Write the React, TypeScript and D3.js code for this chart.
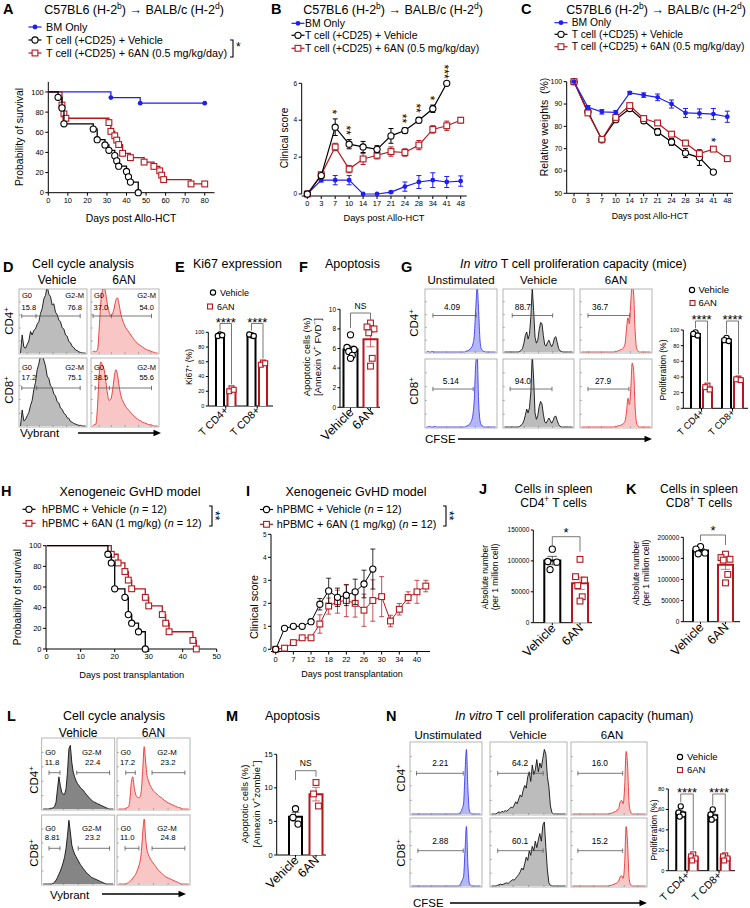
import React from 'react';
import * as d3 from 'd3';

const FONT = '"Liberation Sans", Arial, Helvetica, sans-serif';
const BLUE = '#1f1ff2';
const RED = '#b5171d';
const FLOW_RED = '#e8332f';
const FLOW_RED_FILL = '#f8c6c4';
const FLOW_GRAY = '#bcbcbc';
const FLOW_DARK = '#858585';
const FLOW_BLUE = '#3a3aef';
const FLOW_BLUE_FILL = '#b3b7f6';

// ---------- mouse allo-HCT model (A-C) ----------
const mouseGroups = ['BM Only', 'T cell (+CD25) + Vehicle', 'T cell (+CD25) + 6AN (0.5 mg/kg/day)'];

const aBmDays = [0, 32, 47, 80];
const aBmSurv = [100, 94.4, 88.9, 88.9];
const aVehDays = [0, 5, 7, 8, 23, 25, 29, 31, 34, 35, 36, 40, 41, 42, 46];
const aVehSurv = [100, 94.7, 84.2, 68.4, 63.2, 52.6, 47.4, 42.1, 36.8, 31.6, 26.3, 21.1, 15.8, 10.5, 0];
const a6anDays = [0, 7, 8, 9, 31, 32, 34, 35, 36, 38, 42, 49, 54, 57, 58, 59, 73, 80];
const a6anSurv = [100, 87, 78.3, 73.9, 69.6, 60.9, 56.5, 52.2, 47.8, 39.1, 34.8, 30.4, 26.1, 21.7, 17.4, 13, 8.7, 8.7];
const aXTicks = [0, 10, 20, 30, 40, 50, 60, 70, 80];
const aYTicks = [0, 20, 40, 60, 80, 100];

const bDays = ['0', '3', '7', '10', '14', '17', '21', '24', '28', '34', '41', '48'];
const bBm = [0, 0.75, 0.75, 0.75, 0, 0, 0.1, 0.4, 0.65, 0.75, 0.65, 0.7];
const bBmErr = [0, 0.1, 0.25, 0.25, 0, 0, 0.05, 0.25, 0.35, 0.4, 0.3, 0.28];
const bVeh = [0, 1.0, 3.62, 2.7, 2.55, 2.42, 3.15, 3.44, 4.0, 4.62, 6.0];
const bVehErr = [0, 0.1, 0.45, 0.25, 0.3, 0.2, 0.4, 0.15, 0.15, 0.2, 0];
const b6an = [0, 1.05, 2.55, 1.35, 1.9, 2.1, 2.3, 2.25, 2.65, 3.5, 3.7, 4.0];
const b6anErr = [0, 0.1, 0.2, 0.2, 0.3, 0.2, 0.25, 0.2, 0.25, 0.2, 0.25, 0.15];
const bStars = ['', '', '*', '**', '', '', '', '**', '**', '*', '***', ''];

const cBm = [100, 88.5, 86.5, 86.3, 95, 94, 93, 90, 86, 85.8, 85.5, 84.3];
const cBmErr = [0, 0.8, 1, 0.8, 0.6, 1, 1.5, 1.8, 2, 2, 2.5, 2.5];
const cVeh = [100, 86.5, 74, 83, 88, 82.5, 77.5, 73, 68, 66, 59.5];
const cVehErr = [0, 0.8, 0.8, 1, 1, 1, 1.5, 1.5, 2, 3.5, 0.8];
const c6an = [100, 86, 74.2, 84, 89.3, 83.5, 81.5, 76.5, 72.5, 67.8, 69.8, 65.5];
const c6anErr = [0, 0.8, 0.8, 1, 1, 1, 1, 1, 1.2, 1, 1, 1.2];
const cStars = ['', '', '', '', '', '', '', '', '', '', '*', ''];

// ---------- cell cycle, mouse T cells (D) ----------
const cycleConds = ['Vehicle', '6AN'];
const dG0 = [['15.8', '37.0'], ['17.2', '38.5']];
const dG2M = [['76.8', '54.0'], ['75.1', '55.6']];
const dVehCd4 = [0, 30, 10, 8, 14, 20, 36, 30, 38, 40, 48, 52, 66, 74, 90, 96, 112, 98, 94, 80, 82, 68, 64, 55, 52, 42, 40, 30, 28, 19, 17, 11, 9, 5, 4, 2, 1, 0, 0, 0];
const d6anCd4 = [2, 3, 2, 5, 40, 85, 105, 110, 98, 80, 68, 62, 65, 75, 88, 92, 80, 65, 55, 48, 42, 38, 34, 30, 26, 22, 19, 16, 14, 12, 10, 8, 6, 5, 4, 3, 2, 1, 0, 0];
const dVehCd8 = [0, 25, 8, 10, 16, 21, 32, 40, 57, 68, 88, 97, 110, 112, 103, 94, 78, 74, 63, 60, 50, 47, 38, 36, 28, 26, 20, 18, 13, 12, 7, 6, 4, 3, 2, 1, 1, 0, 0, 0];
const d6anCd8 = [0, 2, 3, 30, 80, 100, 95, 88, 70, 50, 40, 42, 55, 75, 88, 80, 62, 48, 40, 35, 30, 27, 24, 21, 18, 15, 13, 11, 9, 8, 6, 5, 4, 3, 2, 2, 1, 0, 0, 0];

// ---------- Ki67 (E), apoptosis (F) ----------
const tGroups = ['T CD4+', 'T CD8+'];
const eVeh = [[97, 95, 96], [96, 97, 95]];
const e6an = [[24, 20, 22], [59, 56, 58]];
const fVeh = [7.4, 6.1, 5.9, 5.7, 5.3, 5.0];
const f6an = [8.6, 8.2, 8.0, 7.6, 5.0, 4.2];

// ---------- CFSE proliferation, mouse (G) ----------
const cfseConds = ['Unstimulated', 'Vehicle', '6AN'];
const gPct = [['4.09', '88.7', '36.7'], ['5.14', '94.0', '27.9']];
const gUnstCd4 = [0, 1, 0, 0, 1, 0, 0, 0, 0, 0, 0, 0, 0, 0, 0, 0, 0, 0, 0, 0, 0, 0, 0, 0, 0, 0, 0, 0, 1, 2, 3, 5, 8, 14, 30, 75, 110, 70, 20, 5, 2, 1, 0, 0, 0, 0, 0, 0, 0, 0];
const gUnstCd8 = [0, 0, 1, 0, 0, 0, 1, 0, 0, 0, 0, 0, 0, 0, 0, 0, 0, 0, 0, 0, 0, 0, 0, 0, 0, 0, 0, 0, 1, 2, 3, 6, 10, 20, 45, 100, 112, 40, 10, 3, 1, 0, 0, 0, 0, 0, 0, 0, 0, 0];
const gVehCd4 = [0, 0, 0, 0, 0, 0, 0, 0, 0, 0, 0, 1, 3, 6, 15, 28, 34, 22, 30, 60, 110, 70, 25, 15, 20, 38, 50, 48, 28, 12, 10, 16, 20, 14, 9, 14, 24, 26, 16, 6, 2, 1, 0, 0, 0, 0, 0, 0, 0, 0];
const gVehCd8 = [0, 0, 0, 0, 0, 0, 0, 0, 0, 0, 0, 1, 3, 5, 10, 18, 28, 22, 30, 55, 115, 75, 22, 12, 18, 32, 40, 36, 20, 8, 6, 10, 14, 10, 6, 10, 16, 17, 10, 4, 1, 0, 0, 0, 0, 0, 0, 0, 0, 0];
const g6anCd4 = [0, 0, 0, 0, 0, 0, 0, 0, 0, 0, 0, 0, 0, 0, 0, 0, 0, 0, 0, 0, 0, 0, 0, 0, 1, 1, 2, 3, 4, 5, 8, 15, 40, 58, 48, 85, 115, 100, 40, 8, 2, 0, 0, 0, 0, 0, 0, 0, 0, 0];
const g6anCd8 = [0, 0, 0, 0, 0, 0, 0, 0, 0, 0, 0, 0, 0, 0, 0, 0, 0, 0, 0, 0, 0, 0, 0, 0, 1, 1, 2, 2, 3, 4, 6, 10, 25, 45, 35, 60, 100, 90, 35, 8, 2, 0, 0, 0, 0, 0, 0, 0, 0, 0];
const gVeh = [[97, 95, 93], [90, 87, 86]];
const g6an = [[29, 27, 24], [38, 37, 36]];

// ---------- xenogeneic GvHD (H-K) ----------
const huGroups = ['hPBMC + Vehicle', 'hPBMC + 6AN (1 mg/kg)'];
const huN = [12, 12];
const hVehDays = [0, 18, 19, 20, 23, 24, 25, 27, 29];
const hVehSurv = [100, 91.7, 83.3, 58.3, 50, 33.3, 25, 16.7, 0];
const h6anDays = [0, 19, 21, 23, 24, 25, 29, 30, 34, 35, 36, 43, 44];
const h6anSurv = [100, 91.7, 83.3, 75, 66.7, 58.3, 50, 41.7, 33.3, 25, 16.7, 8.3, 0];
const hXTicks = [0, 10, 20, 30, 40, 50];

const iDays = ['0', '4', '7', '10', '12', '15', '18', '20', '22', '24', '26', '28', '30', '32', '34', '37', '40', '42'];
const iVeh = [0, 0.91, 1.0, 1.0, 1.2, 1.96, 2.54, 2.26, 2.35, 2.5, 2.84, 3.49];
const iVehErr = [0, 0, 0, 0, 0, 0.25, 0.55, 0.4, 0.45, 0.55, 0.6, 0.87];
const i6an = [0, 0.05, 0.29, 0.5, 0.5, 1.1, 1.88, 2.07, 2.12, 2.0, 1.7, 2.12, 2.29, 1.23, 1.74, 2.25, 2.5, 2.75];
const i6anErr = [0, 0, 0, 0, 0, 0.4, 0.35, 0.5, 0.7, 0.6, 0.7, 0.9, 0.87, 0.25, 0.25, 0.25, 0.5, 0.25];

const pairLabels = ['Vehicle', '6AN'];
const jVeh = [119000, 99000, 98000, 86000];
const j6an = [102500, 74500, 69000, 60000, 42000, 35000];
const kVeh = [178000, 172000, 163000, 161000];
const k6an = [160000, 152000, 148000, 146000, 112000, 92000];

// ---------- human T cells (L-N) ----------
const lG0 = [['11.8', '17.2'], ['8.81', '11.0']];
const lG2M = [['22.4', '23.2'], ['23.2', '24.8']];
const lVehCd4 = [0, 0, 0, 0, 0, 1, 1, 2, 4, 10, 30, 48, 35, 25, 22, 22, 30, 55, 90, 95, 70, 55, 48, 42, 38, 35, 32, 30, 28, 25, 22, 20, 17, 15, 13, 11, 10, 9, 8, 7, 6, 5, 4, 3, 2, 1, 0, 0, 0, 0];
const l6anCd4 = [0, 0, 0, 0, 0, 1, 2, 3, 15, 40, 48, 32, 22, 18, 17, 18, 28, 60, 93, 70, 50, 42, 36, 32, 28, 26, 24, 22, 20, 18, 17, 15, 13, 12, 10, 9, 8, 7, 6, 5, 4, 3, 2, 2, 1, 0, 0, 0, 0, 0];
const lVehCd8 = [0, 0, 0, 0, 0, 0, 0, 1, 3, 6, 10, 15, 20, 26, 33, 42, 55, 75, 98, 80, 60, 52, 46, 42, 38, 34, 30, 27, 24, 21, 18, 16, 14, 12, 10, 9, 8, 7, 6, 5, 4, 3, 2, 1, 0, 0, 0, 0, 0, 0];
const l6anCd8 = [0, 0, 0, 0, 0, 0, 1, 2, 4, 6, 9, 12, 15, 20, 26, 34, 50, 80, 100, 70, 52, 45, 40, 36, 33, 30, 27, 24, 21, 19, 17, 15, 13, 11, 10, 9, 8, 7, 6, 5, 4, 3, 2, 1, 0, 0, 0, 0, 0, 0];
const mVeh = [6.9, 5.6, 4.6];
const m6an = [10.8, 9.1, 7.3];

const nPct = [['2.21', '64.2', '16.0'], ['2.88', '60.1', '15.2']];
const nUnstCd4 = [0, 0, 0, 0, 0, 0, 0, 0, 0, 0, 0, 0, 0, 0, 0, 0, 0, 0, 0, 0, 0, 0, 0, 0, 0, 0, 0, 0, 0, 0, 0, 0, 0, 0, 1, 3, 8, 16, 60, 95, 40, 6, 1, 0, 0, 0, 0, 0, 0, 0];
const nUnstCd8 = [0, 0, 0, 0, 0, 0, 0, 0, 0, 0, 0, 0, 0, 0, 0, 0, 0, 0, 0, 0, 0, 0, 0, 0, 0, 0, 0, 0, 0, 0, 0, 0, 0, 0, 1, 4, 9, 15, 55, 93, 35, 5, 1, 0, 0, 0, 0, 0, 0, 0];
const nVehCd4 = [0, 0, 0, 0, 2, 3, 2, 4, 3, 5, 4, 6, 8, 10, 9, 13, 18, 15, 22, 28, 25, 35, 42, 38, 55, 62, 48, 72, 58, 65, 80, 62, 75, 68, 82, 95, 88, 55, 40, 12, 2, 0, 0, 0, 0, 0, 0, 0, 0, 0];
const nVehCd8 = [0, 0, 0, 0, 1, 2, 3, 2, 3, 4, 5, 4, 6, 8, 10, 9, 12, 15, 18, 22, 28, 25, 35, 45, 40, 55, 48, 62, 55, 70, 60, 72, 82, 70, 95, 100, 60, 25, 5, 1, 0, 0, 0, 0, 0, 0, 0, 0, 0, 0];
const n6anCd4 = [0, 0, 0, 0, 0, 0, 0, 0, 0, 0, 0, 0, 0, 0, 0, 0, 0, 0, 0, 0, 0, 0, 0, 0, 0, 1, 1, 2, 3, 4, 6, 8, 18, 20, 15, 40, 92, 70, 15, 3, 0, 0, 0, 0, 0, 0, 0, 0, 0, 0];
const n6anCd8 = [0, 0, 0, 0, 0, 0, 0, 0, 0, 0, 0, 0, 0, 0, 0, 0, 0, 0, 0, 0, 0, 0, 0, 0, 0, 1, 1, 2, 3, 4, 5, 8, 14, 16, 12, 35, 93, 65, 12, 2, 0, 0, 0, 0, 0, 0, 0, 0, 0, 0];
const nVeh = [[63, 57, 55, 53], [60, 55, 52, 50]];
const n6an = [[16, 14, 12, 10], [15, 14, 12, 10]];

// ================= drawing helpers =================
function rich(parts: any[], fs: number) {
  const out: any[] = [];
  let up = false;
  parts.forEach((p, i) => {
    const [t, k] = typeof p === 'string' ? [p, ''] : p;
    if (k === 'sup') {
      out.push(<tspan key={i} dy={-fs * 0.38} fontSize={fs * 0.68}>{t}</tspan>);
      up = true;
    } else {
      out.push(
        <tspan key={i} dy={up ? fs * 0.38 : 0} fontStyle={k === 'it' ? 'italic' : undefined}>{t}</tspan>
      );
      up = false;
    }
  });
  return out;
}

function Letter({ x, y, t }: any) {
  return <text x={x} y={y} fontSize={14.5} fontWeight="bold">{t}</text>;
}

function Mk({ kind, x, y, s = 1 }: any) {
  if (kind === 'dot') return <circle cx={x} cy={y} r={2.4 * s} fill={BLUE} />;
  if (kind === 'circle') return <circle cx={x} cy={y} r={3.1 * s} fill="#fff" stroke="#000" strokeWidth={1.1} />;
  const h = 2.9 * s;
  return <rect x={x - h} y={y - h} width={2 * h} height={2 * h} fill="#fff" stroke={RED} strokeWidth={1.1} />;
}

function YAx({ y, x, ticks, fs, top, tl = 3, fmt = (v: number) => String(v) }: any) {
  const r = y.range();
  return (
    <g>
      <line x1={x} x2={x} y1={r[0]} y2={top ?? r[1]} stroke="#000" strokeWidth={1} />
      {ticks.map((t: number) => (
        <g key={t}>
          <line x1={x - tl} x2={x} y1={y(t)} y2={y(t)} stroke="#000" strokeWidth={1} />
          <text x={x - tl - 1.5} y={y(t)} dy="0.35em" textAnchor="end" fontSize={fs}>{fmt(t)}</text>
        </g>
      ))}
    </g>
  );
}

function XAx({ yPos, x0, x1, ticks, fs, tl = 3 }: any) {
  return (
    <g>
      <line x1={x0} x2={x1} y1={yPos} y2={yPos} stroke="#000" strokeWidth={1} />
      {ticks.map(([p, l]: any, i: number) => (
        <g key={i}>
          <line x1={p} x2={p} y1={yPos} y2={yPos + tl} stroke="#000" strokeWidth={1} />
          <text x={p} y={yPos + tl + 1.5 + fs * 0.75} textAnchor="middle" fontSize={fs}>{l}</text>
        </g>
      ))}
    </g>
  );
}

// significance asterisks stacked vertically, set as one run of text turned on its side
function VStars({ x, yc, n, fs = 12 }: any) {
  const adv = fs * 0.389;
  return (
    <text
      transform={`translate(${x - fs * 0.565},${yc + adv / 2}) rotate(90)`}
      textAnchor="end"
      fontSize={fs}
      fill="#000"
    >
      {'*'.repeat(n)}
    </text>
  );
}

function Series({ xs, y, vals, errs, kind, color, cap = 2.5, ms = 1, errOpacity = 1, lw = 1.2 }: any) {
  const pts = vals.map((v: number, i: number) => [xs[i], y(v)]);
  const line = d3.line();
  return (
    <g>
      <g stroke={color} strokeWidth={1} strokeOpacity={errOpacity}>
        {vals.map((v: number, i: number) =>
          errs[i] > 0 ? (
            <g key={i}>
              <line x1={xs[i]} x2={xs[i]} y1={y(v - errs[i])} y2={y(v + errs[i])} />
              <line x1={xs[i] - cap} x2={xs[i] + cap} y1={y(v + errs[i])} y2={y(v + errs[i])} />
              <line x1={xs[i] - cap} x2={xs[i] + cap} y1={y(v - errs[i])} y2={y(v - errs[i])} />
            </g>
          ) : null
        )}
      </g>
      <path d={line(pts) || ''} fill="none" stroke={color} strokeWidth={lw} />
      {pts.map((p: number[], i: number) => <Mk key={i} kind={kind} x={p[0]} y={p[1]} s={ms} />)}
    </g>
  );
}

function KM({ x, y, days, surv, kind, color }: any) {
  const pts = days.map((t: number, i: number) => [t, surv[i]]);
  const step = d3.line().x((d: any) => x(d[0])).y((d: any) => y(d[1])).curve(d3.curveStepAfter);
  return (
    <g>
      <path d={step(pts) || ''} fill="none" stroke={color} strokeWidth={1.3} />
      {pts.slice(1).map((p: number[], i: number) => <Mk key={i} kind={kind} x={x(p[0])} y={y(p[1])} />)}
    </g>
  );
}

function StrainTitle({ x, y, fs }: any) {
  return (
    <text x={x} y={y} fontSize={fs} textAnchor="middle">
      {rich(['C57BL6 (H-2', ['b', 'sup'], ') \u2192 BALB/c (H-2', ['d', 'sup'], ')'], fs)}
    </text>
  );
}

function MouseLegend({ cx, ys, tx, fs }: any) {
  const kinds = ['dot', 'circle', 'square'];
  const cols = [BLUE, '#000', RED];
  return (
    <g>
      {mouseGroups.map((t, i) => (
        <g key={t}>
          <line x1={cx - 6.5} x2={cx + 6.5} y1={ys[i]} y2={ys[i]} stroke={cols[i]} strokeWidth={1.2} />
          <Mk kind={kinds[i]} x={cx} y={ys[i]} />
          <text x={tx} y={ys[i]} dy="0.35em" fontSize={fs}>{t}</text>
        </g>
      ))}
    </g>
  );
}

function HuLegend({ cx, ys, tx, fs }: any) {
  const kinds = ['circle', 'square'];
  const cols = ['#000', RED];
  return (
    <g>
      {huGroups.map((t, i) => (
        <g key={t}>
          <line x1={cx - 6.5} x2={cx + 6.5} y1={ys[i]} y2={ys[i]} stroke={cols[i]} strokeWidth={1.2} />
          <Mk kind={kinds[i]} x={cx} y={ys[i]} />
          <text x={tx} y={ys[i]} dy="0.35em" fontSize={fs}>
            {t} (<tspan fontStyle="italic">n</tspan> = {huN[i]})
          </text>
        </g>
      ))}
    </g>
  );
}

function RightBracket({ x, y1, y2, w = 3 }: any) {
  return <path d={`M${x - w},${y1}H${x}V${y2}H${x - w}`} fill="none" stroke="#000" strokeWidth={1.1} />;
}

function FlowHist({ id, x, y, w, h, data, fill, stroke, smooth = false }: any) {
  const xs = d3.scaleLinear().domain([0, data.length - 1]).range([x + 1.5, x + w - 1.5]);
  const ys = d3.scaleLinear().domain([0, 100]).range([y + h - 1, y + 4]);
  const curve = smooth ? d3.curveMonotoneX : d3.curveLinear;
  const area = d3.area<number>().x((_, i) => xs(i)).y0(y + h - 1).y1((d) => ys(d)).curve(curve);
  const line = d3.line<number>().x((_, i) => xs(i)).y((d) => ys(d)).curve(curve);
  const bt = [0.12, 0.3, 0.5, 0.7, 0.88];
  const lt = [0.2, 0.4, 0.6, 0.8];
  return (
    <g>
      <defs>
        <clipPath id={id}>
          <rect x={x} y={y} width={w} height={h} />
        </clipPath>
      </defs>
      <g clipPath={`url(#${id})`}>
        <path d={area(data) || ''} fill={fill} />
        <path d={line(data) || ''} fill="none" stroke={stroke} strokeWidth={0.9} strokeLinejoin="round" />
      </g>
      <rect x={x} y={y} width={w} height={h} fill="none" stroke="#a3a3a3" strokeWidth={0.8} />
      <g stroke="#777" strokeWidth={0.6}>
        {bt.map((f) => <line key={'b' + f} x1={x + f * w} x2={x + f * w} y1={y + h} y2={y + h - 1.8} />)}
        {lt.map((f) => <line key={'l' + f} x1={x} x2={x + 1.8} y1={y + f * h} y2={y + f * h} />)}
      </g>
    </g>
  );
}

function Gate({ xs, y }: any) {
  return (
    <g stroke="#555" strokeWidth={0.8}>
      <line x1={xs[0]} x2={xs[xs.length - 1]} y1={y} y2={y} />
      {xs.map((v: number, i: number) => <line key={i} x1={v} x2={v} y1={y - 2.2} y2={y + 2.2} />)}
    </g>
  );
}

function Arrow({ x1, x2, y }: any) {
  return (
    <g>
      <line x1={x1} x2={x2 - 5} y1={y} y2={y} stroke="#000" strokeWidth={1.6} />
      <path d={`M${x2},${y}L${x2 - 7.5},${y - 3.2}L${x2 - 7.5},${y + 3.2}Z`} fill="#000" />
    </g>
  );
}

function RotLabel({ x, y, fs, children }: any) {
  return (
    <text transform={`translate(${x},${y}) rotate(-90)`} textAnchor="middle" fontSize={fs}>{children}</text>
  );
}

const JIT = [0, -1, 1, -0.5, 0.5, 0];
function Bar({ cx, w, vals, y, color, kind, ms = 1, spread = 3 }: any) {
  const m = d3.mean(vals) as number;
  const se = (d3.deviation(vals) as number) / Math.sqrt(vals.length);
  const yb = y(0);
  const yt = y(m);
  const ce = w * 0.3;
  return (
    <g>
      <path d={`M${cx - w / 2},${yb}V${yt}H${cx + w / 2}V${yb}`} fill="#fff" stroke={color} strokeWidth={2} />
      <g stroke={color} strokeWidth={1} strokeOpacity={0.6}>
        <line x1={cx} x2={cx} y1={y(m - se)} y2={y(m + se)} />
        <line x1={cx - ce} x2={cx + ce} y1={y(m + se)} y2={y(m + se)} />
        <line x1={cx - ce} x2={cx + ce} y1={y(m - se)} y2={y(m - se)} />
      </g>
      {vals.map((v: number, i: number) => (
        <Mk key={i} kind={kind} x={cx + JIT[i % JIT.length] * spread} y={y(v)} s={ms} />
      ))}
    </g>
  );
}

function GroupBars({ y, ax, xEnd, centers, off, bw, veh, an, labelY, labelFs, ticks, tickFs, starY, brY, starFs = 13, ms = 0.85 }: any) {
  const y0 = y(0);
  return (
    <g>
      <YAx y={y} x={ax} ticks={ticks} fs={tickFs} tl={2.5} />
      <line x1={ax} x2={xEnd} y1={y0} y2={y0} stroke="#000" strokeWidth={1} />
      {centers.map((c: number, gi: number) => {
        const xv = c - off;
        const xa = c + off;
        const lv = y(d3.max(veh[gi]) as number) - 4;
        const la = y(d3.max(an[gi]) as number) - 4;
        return (
          <g key={gi}>
            <line x1={c} x2={c} y1={y0} y2={y0 + 2.5} stroke="#000" />
            <Bar cx={xv} w={bw} vals={veh[gi]} y={y} color="#000" kind="circle" ms={ms} spread={2.2} />
            <Bar cx={xa} w={bw} vals={an[gi]} y={y} color={RED} kind="square" ms={ms} spread={2.2} />
            <path d={`M${xv},${lv}V${brY}H${xa}V${la}`} fill="none" stroke="#555" strokeWidth={0.8} />
            <text x={c} y={starY + starFs * 0.57} textAnchor="middle" fontSize={starFs}>****</text>
            <text transform={`translate(${c + 3},${labelY}) rotate(-45)`} textAnchor="end" fontSize={labelFs}>
              {tGroups[gi]}
            </text>
          </g>
        );
      })}
    </g>
  );
}

function PairBars({ y, ax, xEnd, xs, bw, veh, an, ticks, tickFs, labelY, labelFs, sig, sigY, brY, legs, ms = 1, spread = 3.5, sigFs = 8.5 }: any) {
  const y0 = y(0);
  return (
    <g>
      <YAx y={y} x={ax} ticks={ticks} fs={tickFs} tl={2.5} />
      <line x1={ax} x2={xEnd} y1={y0} y2={y0} stroke="#000" strokeWidth={1} />
      {xs.map((c: number) => <line key={c} x1={c} x2={c} y1={y0} y2={y0 + 2.5} stroke="#000" />)}
      <Bar cx={xs[0]} w={bw} vals={veh} y={y} color="#000" kind="circle" ms={ms} spread={spread} />
      <Bar cx={xs[1]} w={bw} vals={an} y={y} color={RED} kind="square" ms={ms} spread={spread} />
      <path d={`M${xs[0]},${legs[0]}V${brY}H${xs[1]}V${legs[1]}`} fill="none" stroke="#555" strokeWidth={0.8} />
      <text x={(xs[0] + xs[1]) / 2} y={sigY} textAnchor="middle" fontSize={sigFs}>{sig}</text>
      {pairLabels.map((t, i) => (
        <text key={t} transform={`translate(${xs[i] + 4},${labelY}) rotate(-45)`} textAnchor="end" fontSize={labelFs}>{t}</text>
      ))}
    </g>
  );
}

// ================= panels =================
function PanelA() {
  const x = d3.scaleLinear().domain([0, 85]).range([48.3, 214.5]);
  const y = d3.scaleLinear().domain([0, 110]).range([192.7, 81.9]);
  return (
    <g>
      <Letter x={3} y={14} t="A" />
      <StrainTitle x={134} y={14} fs={12.5} />
      <MouseLegend cx={35} ys={[27, 40, 53]} tx={46} fs={10.8} />
      <RightBracket x={233} y1={40} y2={57} />
      <text x={236} y={51} fontSize={12}>*</text>
      <YAx y={y} x={48.3} ticks={aYTicks} fs={7.5} top={y(110)} />
      <XAx yPos={y(0)} x0={48.3} x1={x(85)} ticks={aXTicks.map((v) => [x(v), String(v)])} fs={7.5} />
      <RotLabel x={23} y={137} fs={10.4}>Probability of survival</RotLabel>
      <text x={131} y={222} textAnchor="middle" fontSize={10.4}>Days post Allo-HCT</text>
      <KM x={x} y={y} days={aBmDays} surv={aBmSurv} kind="dot" color={BLUE} />
      <KM x={x} y={y} days={a6anDays} surv={a6anSurv} kind="square" color={RED} />
      <KM x={x} y={y} days={aVehDays} surv={aVehSurv} kind="circle" color="#000" />
    </g>
  );
}

function PanelB() {
  const x = d3.scalePoint().domain(bDays).range([307.3, 460.7]);
  const y = d3.scaleLinear().domain([0, 6]).range([194, 83.3]);
  const px = (i: number) => x(bDays[i]) as number;
  return (
    <g>
      <Letter x={271} y={14} t="B" />
      <StrainTitle x={393} y={14} fs={12.5} />
      <MouseLegend cx={298} ys={[23.3, 35.3, 48.3]} tx={305} fs={10.4} />
      <YAx y={y} x={301.7} ticks={[0, 2, 4, 6]} fs={6.5} />
      <XAx yPos={196} x0={301.7} x1={466.7} ticks={bDays.map((d) => [x(d), d])} fs={7.5} />
      <RotLabel x={288} y={138} fs={10.2}>Clinical score</RotLabel>
      <text x={384} y={221} textAnchor="middle" fontSize={9.3}>Days post Allo-HCT</text>
      <Series xs={bBm.map((_, i) => px(i))} y={y} vals={bBm} errs={bBmErr} kind="dot" color={BLUE} />
      <Series xs={b6an.map((_, i) => px(i))} y={y} vals={b6an} errs={b6anErr} kind="square" color={RED} />
      <Series xs={bVeh.map((_, i) => px(i))} y={y} vals={bVeh} errs={bVehErr} kind="circle" color="#000" />
      {bStars.map((s, i) =>
        s ? (
          <VStars key={i} x={px(i)} yc={y(Math.max(bVeh[i] + bVehErr[i], b6an[i] + b6anErr[i])) - 7} n={s.length} />
        ) : null
      )}
    </g>
  );
}

function PanelC() {
  const x = d3.scalePoint().domain(bDays).range([574, 727.3]);
  const y = d3.scaleLinear().domain([50, 100]).range([193.3, 81.7]);
  const px = (i: number) => x(bDays[i]) as number;
  return (
    <g>
      <Letter x={521} y={14} t="C" />
      <StrainTitle x={656} y={14} fs={12.5} />
      <MouseLegend cx={561} ys={[22.7, 34.3, 46.7]} tx={571.7} fs={10.3} />
      <YAx y={y} x={566.7} ticks={[50, 60, 70, 80, 90, 100]} fs={7} />
      <XAx yPos={193.3} x0={566.7} x1={733} ticks={bDays.map((d) => [x(d), d])} fs={7.5} />
      <text transform="translate(548,127) rotate(-90)" textAnchor="middle" fontSize={10.5} style={{ whiteSpace: 'pre' }}>
        Relative weights  (%)
      </text>
      <text x={650} y={219} textAnchor="middle" fontSize={8.8}>Days post Allo-HCT</text>
      <Series xs={cVeh.map((_, i) => px(i))} y={y} vals={cVeh} errs={cVehErr} kind="circle" color="#000" />
      <Series xs={c6an.map((_, i) => px(i))} y={y} vals={c6an} errs={c6anErr} kind="square" color={RED} />
      <Series xs={cBm.map((_, i) => px(i))} y={y} vals={cBm} errs={cBmErr} kind="dot" color={BLUE} />
      {cStars.map((s, i) =>
        s ? (
          <VStars key={i} x={px(i)} yc={y(Math.max(cVeh[i] + cVehErr[i], c6an[i] + c6anErr[i])) - 7} n={s.length} />
        ) : null
      )}
    </g>
  );
}

function PanelD() {
  const cols = [{ x: 19, w: 68 }, { x: 91, w: 68 }];
  const rows = [{ y: 289, h: 65, t: [9, 20.5, 27] }, { y: 358, h: 69, t: [11.5, 22, 30] }];
  const hists = [[dVehCd4, d6anCd4], [dVehCd8, d6anCd8]];
  const gates = [[[0.04, 0.25, 0.9], [0.03, 0.3, 0.89]], [[0.04, 0.26, 0.9], [0.06, 0.27, 0.89]]];
  const styles = [
    { fill: FLOW_GRAY, stroke: '#111', smooth: false },
    { fill: FLOW_RED_FILL, stroke: FLOW_RED, smooth: true },
  ];
  return (
    <g>
      <Letter x={3} y={272} t="D" />
      <text x={32} y={268} fontSize={12.5}>Cell cycle analysis</text>
      {cycleConds.map((c, i) => (
        <text key={c} x={[57, 124][i]} y={283.5} textAnchor="middle" fontSize={12}>{c}</text>
      ))}
      {rows.map((r, ri) =>
        cols.map((c, ci) => (
          <g key={`${ri}-${ci}`}>
            <FlowHist id={`cc-m-${ri}-${ci}`} x={c.x} y={r.y} w={c.w} h={r.h} data={hists[ri][ci]} {...styles[ci]} />
            <g fontSize={7.5}>
              <text x={c.x + 3} y={r.y + r.t[0]}>G0</text>
              <text x={c.x + c.w - 3} y={r.y + r.t[0]} textAnchor="end">G2-M</text>
              <text x={c.x + 2.5} y={r.y + r.t[1]}>{dG0[ri][ci]}</text>
              <text x={c.x + c.w - 5} y={r.y + r.t[1]} textAnchor="end">{dG2M[ri][ci]}</text>
            </g>
            <Gate xs={gates[ri][ci].map((f) => c.x + f * c.w)} y={r.y + r.t[2]} />
          </g>
        ))
      )}
      <RotLabel x={13} y={321} fs={11.5}>{rich(['CD4', ['+', 'sup']], 11.5)}</RotLabel>
      <RotLabel x={13} y={390} fs={11.5}>{rich(['CD8', ['+', 'sup']], 11.5)}</RotLabel>
      <text x={20} y={437} fontSize={11.5}>Vybrant</text>
      <Arrow x1={78} x2={161} y={433} />
    </g>
  );
}

function PanelE() {
  const y = d3.scaleLinear().domain([0, 100]).range([406, 332.3]);
  return (
    <g>
      <Letter x={175} y={272} t="E" />
      <text x={193} y={268} fontSize={12.5}>Ki67 expression</text>
      <Mk kind="circle" x={213} y={292.5} s={0.85} />
      <text x={220} y={292.5} dy="0.35em" fontSize={9}>Vehicle</text>
      <Mk kind="square" x={210} y={306.5} s={0.85} />
      <text x={217} y={306.5} dy="0.35em" fontSize={9}>6AN</text>
      <GroupBars y={y} ax={208.3} xEnd={273} centers={[225.75, 257.25]} off={5.75} bw={8} veh={eVeh} an={e6an}
        labelY={411} labelFs={10.5} ticks={[0, 20, 40, 60, 80, 100]} tickFs={5.5} starY={319.5} brY={323.5} />
      <RotLabel x={192} y={367} fs={8.5}>{rich(['Ki67', ['+', 'sup'], ' (%)'], 8.5)}</RotLabel>
    </g>
  );
}

function PanelF() {
  const y = d3.scaleLinear().domain([0, 10]).range([407.3, 309.3]);
  return (
    <g>
      <Letter x={299} y={272} t="F" />
      <text x={325} y={268} fontSize={12.5}>Apoptosis</text>
      <PairBars y={y} ax={340} xEnd={380} xs={[350.5, 370.5]} bw={14} veh={fVeh} an={f6an}
        ticks={[0, 2, 4, 6, 8, 10]} tickFs={6.5} labelY={413} labelFs={12.5} sig="NS" sigY={308.5} brY={313}
        legs={[328, 320]} />
      <RotLabel x={309.5} y={357} fs={9.5}>Apoptotic cells (%)</RotLabel>
      <RotLabel x={321} y={357} fs={9.5}>{rich(['[Annexin V', ['+', 'sup'], ' FVD', ['\u2212', 'sup'], ']'], 9.5)}</RotLabel>
    </g>
  );
}

function PanelG() {
  const cols = [{ x: 425, w: 72 }, { x: 503, w: 71 }, { x: 580, w: 72 }];
  const rows = [{ y: 289, h: 64, t: [21, 26.5] }, { y: 359, h: 69, t: [25, 30] }];
  const hists = [[gUnstCd4, gVehCd4, g6anCd4], [gUnstCd8, gVehCd8, g6anCd8]];
  const gates = [[[0.11, 0.71], [0.13, 0.7], [0.11, 0.69]], [[0.11, 0.67], [0.1, 0.69], [0.11, 0.68]]];
  const numX = [[0.375, 0.28, 0.28], [0.36, 0.28, 0.32]];
  const styles = [
    { fill: FLOW_BLUE_FILL, stroke: FLOW_BLUE, smooth: true },
    { fill: FLOW_GRAY, stroke: '#111', smooth: false },
    { fill: FLOW_RED_FILL, stroke: FLOW_RED, smooth: true },
  ];
  const by = d3.scaleLinear().domain([0, 100]).range([408.3, 330]);
  return (
    <g>
      <Letter x={401} y={272} t="G" />
      <text x={460} y={268} fontSize={12.5}>{rich([['In vitro', 'it'], ' T cell proliferation capacity (mice)'], 12.5)}</text>
      {cfseConds.map((c, i) => (
        <text key={c} x={cols[i].x + cols[i].w / 2} y={284} textAnchor="middle" fontSize={11.5}>{c}</text>
      ))}
      {rows.map((r, ri) =>
        cols.map((c, ci) => (
          <g key={`${ri}-${ci}`}>
            <FlowHist id={`cfse-m-${ri}-${ci}`} x={c.x} y={r.y} w={c.w} h={r.h} data={hists[ri][ci]} {...styles[ci]} />
            <text x={c.x + numX[ri][ci] * c.w} y={r.y + r.t[0]} textAnchor="middle" fontSize={8.3}>{gPct[ri][ci]}</text>
            <Gate xs={gates[ri][ci].map((f) => c.x + f * c.w)} y={r.y + r.t[1]} />
          </g>
        ))
      )}
      <RotLabel x={418} y={323} fs={11.5}>{rich(['CD4', ['+', 'sup']], 11.5)}</RotLabel>
      <RotLabel x={418} y={391} fs={11.5}>{rich(['CD8', ['+', 'sup']], 11.5)}</RotLabel>
      <text x={425} y={442.5} fontSize={11.5}>CFSE</text>
      <Arrow x1={458} x2={652} y={439} />
      <Mk kind="circle" x={692} y={290} s={0.85} />
      <text x={698.5} y={290} dy="0.35em" fontSize={9.5}>Vehicle</text>
      <Mk kind="square" x={692.5} y={303} s={0.85} />
      <text x={698.5} y={303} dy="0.35em" fontSize={9.5}>6AN</text>
      <GroupBars y={by} ax={683.3} xEnd={748} centers={[701.5, 732.5]} off={6} bw={9} veh={gVeh} an={g6an}
        labelY={413} labelFs={9.5} ticks={[0, 20, 40, 60, 80, 100]} tickFs={5.5} starY={316.5} brY={321} />
      <RotLabel x={665.5} y={370} fs={8.5}>Proliferation (%)</RotLabel>
    </g>
  );
}

function PanelH() {
  const x = d3.scaleLinear().domain([0, 50]).range([46.7, 216.7]);
  const y = d3.scaleLinear().domain([0, 100]).range([649, 545.7]);
  return (
    <g>
      <Letter x={1} y={496} t="H" />
      <text x={130} y={496} textAnchor="middle" fontSize={12.5}>Xenogeneic GvHD model</text>
      <HuLegend cx={29} ys={[509.3, 523.3]} tx={42} fs={10.8} />
      <RightBracket x={212} y1={506} y2={526} />
      <VStars x={217.5} yc={518} n={2} />
      <YAx y={y} x={46} ticks={aYTicks} fs={7.5} />
      <XAx yPos={649} x0={46} x1={216.7} ticks={hXTicks.map((v) => [x(v), String(v)])} fs={7.5} />
      <RotLabel x={21} y={597} fs={10.2}>Probability of survival</RotLabel>
      <text x={131.7} y={677.5} textAnchor="middle" fontSize={9.3}>Days post transplantation</text>
      <KM x={x} y={y} days={h6anDays} surv={h6anSurv} kind="square" color={RED} />
      <KM x={x} y={y} days={hVehDays} surv={hVehSurv} kind="circle" color="#000" />
    </g>
  );
}

function PanelI() {
  const x = d3.scalePoint().domain(iDays).range([275.7, 425.8]);
  const y = d3.scaleLinear().domain([0, 5]).range([649.3, 534.3]);
  const px = (i: number) => x(iDays[i]) as number;
  return (
    <g>
      <Letter x={246} y={496} t="I" />
      <text x={356} y={496} textAnchor="middle" fontSize={12.5}>Xenogeneic GvHD model</text>
      <HuLegend cx={266.5} ys={[509.5, 524.3]} tx={276.7} fs={10.8} />
      <RightBracket x={446} y1={506} y2={526} />
      <VStars x={452} yc={518} n={2} />
      <YAx y={y} x={271} ticks={[0, 1, 2, 3, 4, 5]} fs={6.5} />
      <XAx yPos={651.5} x0={271} x1={430} ticks={iDays.filter((_, i) => i % 2 === 0).map((d) => [x(d), d])} fs={7.5} />
      <RotLabel x={258} y={607} fs={10.8}>Clinical score</RotLabel>
      <text x={352} y={677} textAnchor="middle" fontSize={9}>Days post transplantation</text>
      <Series xs={i6an.map((_, i) => px(i))} y={y} vals={i6an} errs={i6anErr} kind="square" color={RED} errOpacity={0.75} lw={1} />
      <Series xs={iVeh.map((_, i) => px(i))} y={y} vals={iVeh} errs={iVehErr} kind="circle" color="#000" errOpacity={0.8} lw={1} />
    </g>
  );
}

function PanelJ() {
  const y = d3.scaleLinear().domain([0, 150000]).range([622.7, 530]);
  return (
    <g>
      <Letter x={479} y={494} t="J" />
      <text x={553.5} y={492.5} textAnchor="middle" fontSize={12}>Cells in spleen</text>
      <text x={553.5} y={507} textAnchor="middle" fontSize={12}>{rich(['CD4', ['+', 'sup'], ' T cells'], 12)}</text>
      <PairBars y={y} ax={533.3} xEnd={592} xs={[552.3, 580]} bw={16} veh={jVeh} an={j6an}
        ticks={[0, 50000, 100000, 150000]} tickFs={6.5} labelY={629} labelFs={12.5} sig="*" sigY={536.5} sigFs={13}
        brY={536.7} legs={[546.7, 551.7]} spread={4.5} />
      <RotLabel x={488} y={577} fs={8.5}>Absolute number</RotLabel>
      <RotLabel x={498} y={577} fs={8.5}>(per 1 million cell)</RotLabel>
    </g>
  );
}

function PanelK() {
  const y = d3.scaleLinear().domain([0, 200000]).range([621.7, 537.3]);
  return (
    <g>
      <Letter x={626} y={494} t="K" />
      <text x={699} y={492.5} textAnchor="middle" fontSize={12}>Cells in spleen</text>
      <text x={699} y={507} textAnchor="middle" fontSize={12}>{rich(['CD8', ['+', 'sup'], ' T cells'], 12)}</text>
      <PairBars y={y} ax={683.3} xEnd={740} xs={[700.5, 725.5]} bw={15} veh={kVeh} an={k6an}
        ticks={[0, 50000, 100000, 150000, 200000]} tickFs={6.5} labelY={628} labelFs={12.5} sig="*" sigY={535} sigFs={13}
        brY={535} legs={[541, 545]} spread={4.5} />
      <RotLabel x={639} y={573} fs={8.5}>Absolute number</RotLabel>
      <RotLabel x={649} y={573} fs={8.5}>(per 1 million cell)</RotLabel>
    </g>
  );
}

function PanelL() {
  const cols = [{ x: 41.7, w: 73 }, { x: 117, w: 73 }];
  const rows = [{ y: 738, h: 72, t: [17, 27, 34.7] }, { y: 815, h: 70, t: [16, 25, 33.3] }];
  const hists = [[lVehCd4, l6anCd4], [lVehCd8, l6anCd8]];
  const gates = [
    [[[0.1, 0.25], [0.48, 0.93]], [[0.12, 0.25], [0.48, 0.93]]],
    [[[0.1, 0.25], [0.5, 0.93]], [[0.11, 0.3], [0.48, 0.93]]],
  ];
  const styles = [
    { fill: FLOW_DARK, stroke: '#111', smooth: false },
    { fill: FLOW_RED_FILL, stroke: FLOW_RED, smooth: true },
  ];
  return (
    <g>
      <Letter x={7} y={721} t="L" />
      <text x={63} y={720} fontSize={12.5}>Cell cycle analysis</text>
      {cycleConds.map((c, i) => (
        <text key={c} x={cols[i].x + cols[i].w / 2} y={736.5} textAnchor="middle" fontSize={12}>{c}</text>
      ))}
      {rows.map((r, ri) =>
        cols.map((c, ci) => (
          <g key={`${ri}-${ci}`}>
            <FlowHist id={`cc-h-${ri}-${ci}`} x={c.x} y={r.y} w={c.w} h={r.h} data={hists[ri][ci]} {...styles[ci]} />
            <g fontSize={7.8}>
              <text x={c.x + 3.5} y={r.y + r.t[0]}>G0</text>
              <text x={c.x + 50} y={r.y + r.t[0]} textAnchor="middle">G2-M</text>
              <text x={c.x + 3} y={r.y + r.t[1]}>{lG0[ri][ci]}</text>
              <text x={c.x + 51} y={r.y + r.t[1]} textAnchor="middle">{lG2M[ri][ci]}</text>
            </g>
            {gates[ri][ci].map((g, k) => (
              <Gate key={k} xs={g.map((f) => c.x + f * c.w)} y={r.y + r.t[2]} />
            ))}
          </g>
        ))
      )}
      <RotLabel x={38} y={780} fs={11.5}>{rich(['CD4', ['+', 'sup']], 11.5)}</RotLabel>
      <RotLabel x={38} y={853} fs={11.5}>{rich(['CD8', ['+', 'sup']], 11.5)}</RotLabel>
      <text x={50} y={899} fontSize={11.5}>Vybrant</text>
      <Arrow x1={102} x2={186} y={894} />
    </g>
  );
}

function PanelM() {
  const y = d3.scaleLinear().domain([0, 15]).range([855, 754.3]);
  return (
    <g>
      <Letter x={226} y={721} t="M" />
      <text x={265} y={720} fontSize={12.5}>Apoptosis</text>
      <PairBars y={y} ax={276.7} xEnd={326} xs={[295.5, 316]} bw={13} veh={mVeh} an={m6an}
        ticks={[0, 5, 10, 15]} tickFs={7.5} labelY={861} labelFs={12.5} sig="NS" sigY={766} brY={770.7}
        legs={[780, 776.7]} spread={2.5} />
      <RotLabel x={248} y={804} fs={9.5}>Apoptotic cells (%)</RotLabel>
      <RotLabel x={260} y={804} fs={9.5}>{rich(['[Annexin V', ['+', 'sup'], 'zombie', ['+', 'sup'], ']'], 9.5)}</RotLabel>
    </g>
  );
}

function PanelN() {
  const cols = [{ x: 410, w: 72 }, { x: 490, w: 77 }, { x: 571, w: 76 }];
  const rows = [{ y: 742, h: 73, t: [24, 31.3] }, { y: 818, h: 69, t: [25.7, 32.7] }];
  const hists = [[nUnstCd4, nVehCd4, n6anCd4], [nUnstCd8, nVehCd8, n6anCd8]];
  const gates = [[[0.09, 0.74], [0.1, 0.69], [0.09, 0.68]], [[0.11, 0.74], [0.1, 0.69], [0.09, 0.68]]];
  const numX = [0.42, 0.39, 0.38];
  const styles = [
    { fill: FLOW_BLUE_FILL, stroke: FLOW_BLUE, smooth: true },
    { fill: FLOW_GRAY, stroke: '#111', smooth: false },
    { fill: FLOW_RED_FILL, stroke: FLOW_RED, smooth: true },
  ];
  const by = d3.scaleLinear().domain([0, 80]).range([870.7, 789]);
  return (
    <g>
      <Letter x={386} y={721} t="N" />
      <text x={455} y={720} fontSize={12.5}>{rich([['In vitro', 'it'], ' T cell proliferation capacity (human)'], 12.5)}</text>
      {cfseConds.map((c, i) => (
        <text key={c} x={[448, 528, 612][i]} y={739} textAnchor="middle" fontSize={11.5}>{c}</text>
      ))}
      {rows.map((r, ri) =>
        cols.map((c, ci) => (
          <g key={`${ri}-${ci}`}>
            <FlowHist id={`cfse-h-${ri}-${ci}`} x={c.x} y={r.y} w={c.w} h={r.h} data={hists[ri][ci]} {...styles[ci]} />
            <text x={c.x + numX[ci] * c.w} y={r.y + r.t[0]} textAnchor="middle" fontSize={8.3}>{nPct[ri][ci]}</text>
            <Gate xs={gates[ri][ci].map((f) => c.x + f * c.w)} y={r.y + r.t[1]} />
          </g>
        ))
      )}
      <RotLabel x={405} y={778} fs={11.5}>{rich(['CD4', ['+', 'sup']], 11.5)}</RotLabel>
      <RotLabel x={405} y={853} fs={11.5}>{rich(['CD8', ['+', 'sup']], 11.5)}</RotLabel>
      <text x={413} y={906.5} fontSize={11.5}>CFSE</text>
      <Arrow x1={450} x2={647} y={903} />
      <Mk kind="circle" x={680} y={757} s={0.85} />
      <text x={687} y={757} dy="0.35em" fontSize={9.5}>Vehicle</text>
      <Mk kind="square" x={680} y={770} s={0.85} />
      <text x={687} y={770} dy="0.35em" fontSize={9.5}>6AN</text>
      <GroupBars y={by} ax={668.3} xEnd={735} centers={[687, 719]} off={6.25} bw={9} veh={nVeh} an={n6an}
        labelY={876} labelFs={10.5} ticks={[0, 20, 40, 60, 80]} tickFs={5.5} starY={789.5} brY={794} />
      <RotLabel x={657} y={830} fs={8.5}>Proliferation (%)</RotLabel>
    </g>
  );
}

export default function App() {
  return (
    <svg
      width={750}
      height={908}
      viewBox="0 0 750 908"
      fontFamily={FONT}
      style={{ position: 'absolute', left: 0, top: 0, display: 'block', background: '#fff' }}
    >
      <rect x={0} y={0} width={750} height={908} fill="#fff" />
      <PanelA />
      <PanelB />
      <PanelC />
      <PanelD />
      <PanelE />
      <PanelF />
      <PanelG />
      <PanelH />
      <PanelI />
      <PanelJ />
      <PanelK />
      <PanelL />
      <PanelM />
      <PanelN />
    </svg>
  );
}
